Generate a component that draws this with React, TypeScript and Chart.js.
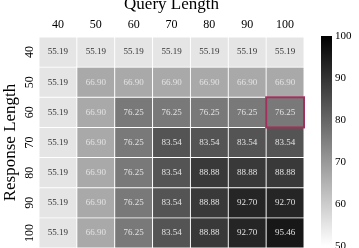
import React, { useEffect, useRef } from 'react';
import { Chart, registerables } from 'chart.js';

Chart.register(...registerables);

const queryLengths = ['40', '50', '60', '70', '80', '90', '100'];
const responseLengths = ['40', '50', '60', '70', '80', '90', '100'];

const row40 = [55.19, 55.19, 55.19, 55.19, 55.19, 55.19, 55.19];
const row50 = [55.19, 66.9, 66.9, 66.9, 66.9, 66.9, 66.9];
const row60 = [55.19, 66.9, 76.25, 76.25, 76.25, 76.25, 76.25];
const row70 = [55.19, 66.9, 76.25, 83.54, 83.54, 83.54, 83.54];
const row80 = [55.19, 66.9, 76.25, 83.54, 88.88, 88.88, 88.88];
const row90 = [55.19, 66.9, 76.25, 83.54, 88.88, 92.7, 92.7];
const row100 = [55.19, 66.9, 76.25, 83.54, 88.88, 92.7, 95.46];
const rows = [row40, row50, row60, row70, row80, row90, row100];

const highlightRow = 2;
const highlightCol = 6;

const colorbarMin = 50;
const colorbarMax = 100;
const colorbarStep = 10;

const FAMILY = "'Liberation Serif', 'Times New Roman', serif";

function gray(v: number): string {
  const t = Math.max(0, Math.min(1, (v - colorbarMin) / (colorbarMax - colorbarMin)));
  const g = Math.round(255 * (1 - t));
  return `rgb(${g},${g},${g})`;
}

const cellPlugin = {
  id: 'cellLabels',
  afterDatasetsDraw(chart: any) {
    const ctx = chart.ctx;
    ctx.save();
    ctx.font = `9px ${FAMILY}`;
    ctx.textAlign = 'center';
    ctx.textBaseline = 'middle';
    rows.forEach((row, r) => {
      const meta = chart.getDatasetMeta(r);
      row.forEach((v, c) => {
        const el: any = meta.data[c];
        if (!el) return;
        const cy = (el.y + el.base) / 2;
        ctx.fillStyle = v < 60 ? '#333333' : '#e2e2e2';
        ctx.fillText(v.toFixed(2), el.x, cy);
      });
    });
    const hel: any = chart.getDatasetMeta(highlightRow).data[highlightCol];
    if (hel) {
      const top = Math.min(hel.y, hel.base);
      const h = Math.abs(hel.base - hel.y);
      ctx.strokeStyle = '#a3305c';
      ctx.lineWidth = 2;
      ctx.strokeRect(hel.x - hel.width / 2, top, hel.width, h);
    }
    ctx.restore();
  },
};

export default function App() {
  const mainRef = useRef<HTMLCanvasElement>(null);
  const barRef = useRef<HTMLCanvasElement>(null);

  useEffect(() => {
    const main = new Chart(mainRef.current as HTMLCanvasElement, {
      type: 'bar',
      data: {
        labels: queryLengths,
        datasets: rows.map((row, i) => ({
          label: responseLengths[i],
          data: row.map(() => 1),
          backgroundColor: row.map(gray),
          borderColor: '#ffffff',
          borderWidth: 0.8,
          borderSkipped: false,
          barPercentage: 1,
          categoryPercentage: 1,
          stack: 'cells',
        })),
      },
      options: {
        responsive: false,
        animation: false,
        layout: { padding: { top: 0, left: 0, right: 6, bottom: -1 } },
        plugins: { legend: { display: false }, tooltip: { enabled: false } },
        scales: {
          x: {
            position: 'top',
            stacked: true,
            grid: { display: false, drawTicks: false },
            border: { display: false },
            afterFit: (scale: any) => {
              scale.height = 37;
              scale.paddingLeft = 0;
              scale.paddingRight = 0;
            },
            ticks: { font: { family: FAMILY, size: 12 }, color: '#000', padding: 4.8 },
            title: {
              display: true,
              text: 'Query Length',
              color: '#000',
              font: { family: FAMILY, size: 17, lineHeight: 1.2 },
              padding: { top: -5.6, bottom: 0 },
            },
          },
          y: {
            type: 'linear',
            stacked: true,
            reverse: true,
            min: 0,
            max: rows.length,
            grid: { display: false, drawTicks: false },
            border: { display: false },
            afterBuildTicks: (scale: any) => {
              scale.ticks = responseLengths.map((_, i) => ({ value: i + 0.5 }));
            },
            afterFit: (scale: any) => {
              scale.width = 39;
              scale.paddingTop = 0;
              scale.paddingBottom = -1;
            },
            ticks: {
              callback: (_v: any, i: number) => responseLengths[i],
              minRotation: 90,
              maxRotation: 90,
              crossAlign: 'center',
              padding: 0,
              font: { family: FAMILY, size: 12 },
              color: '#000',
            },
            title: {
              display: true,
              text: 'Response Length',
              color: '#000',
              font: { family: FAMILY, size: 17, lineHeight: 1.2 },
              padding: { top: 0, bottom: 0 },
            },
          },
        },
      } as any,
      plugins: [cellPlugin],
    });

    const cbar = new Chart(barRef.current as HTMLCanvasElement, {
      type: 'bar',
      data: {
        labels: [''],
        datasets: [
          {
            data: [[colorbarMin, colorbarMax]] as any,
            backgroundColor: (c: any) => {
              const ch = c.chart;
              const ys = ch.scales.y;
              if (!ys || !ch.chartArea) return '#888';
              const g = ch.ctx.createLinearGradient(
                0,
                ys.getPixelForValue(colorbarMin),
                0,
                ys.getPixelForValue(colorbarMax)
              );
              g.addColorStop(0, gray(colorbarMin));
              g.addColorStop(1, gray(colorbarMax));
              return g;
            },
            borderWidth: 0,
            barPercentage: 1,
            categoryPercentage: 1,
          },
        ],
      },
      options: {
        responsive: false,
        animation: false,
        layout: { padding: { top: 36, left: 11, right: 0, bottom: 2 } },
        plugins: { legend: { display: false }, tooltip: { enabled: false } },
        scales: {
          x: { display: false },
          y: {
            position: 'right',
            min: colorbarMin,
            max: colorbarMax,
            grid: { display: false, drawTicks: false },
            border: { display: false },
            afterFit: (scale: any) => {
              scale.width = 27;
              scale.paddingTop = 0;
              scale.paddingBottom = 0;
            },
            ticks: {
              stepSize: colorbarStep,
              padding: 3,
              font: { family: FAMILY, size: 11 },
              color: '#000',
            },
          },
        },
      } as any,
    });

    return () => {
      main.destroy();
      cbar.destroy();
    };
  }, []);

  return (
    <div style={{ position: 'fixed', left: 0, top: 0, width: 359, height: 248, background: '#fff' }}>
      <canvas ref={mainRef} width={310} height={248} style={{ position: 'absolute', left: 0, top: 0 }} />
      <canvas ref={barRef} width={49} height={248} style={{ position: 'absolute', left: 310, top: 0 }} />
    </div>
  );
}
